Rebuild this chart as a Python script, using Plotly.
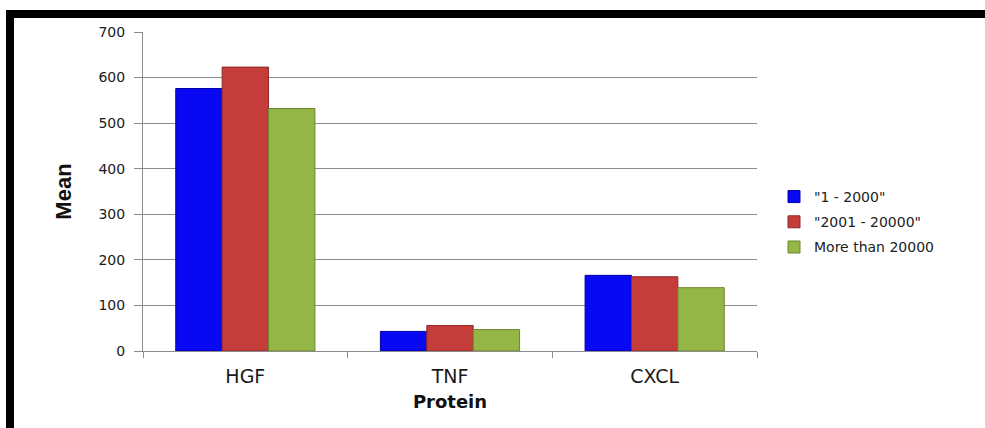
import plotly.graph_objects as go

# Mean protein level per donor-count group
proteins = ["HGF", "TNF", "CXCL"]
group_1_2000 = [576, 43, 166]
group_2001_20000 = [623, 56, 163]
group_over_20000 = [532, 47, 139]

series_names = ['"1 - 2000"', '"2001 - 20000"', "More than 20000"]
series_values = [group_1_2000, group_2001_20000, group_over_20000]
series_colors = ["#0808F2", "#C53D3B", "#94B646"]
edge_colors = ["#0000A8", "#8E2A29", "#6A8530"]

y_ticks = [0, 100, 200, 300, 400, 500, 600, 700]

W, H = 985, 428
ML, MR, MT, MB = 143, 228, 32, 77

fig = go.Figure()
for i, (name, vals, col, edge) in enumerate(zip(series_names, series_values, series_colors, edge_colors)):
    fig.add_trace(go.Bar(
        x=proteins, y=vals, name=name,
        marker=dict(color=col, line=dict(color=edge, width=1)),
        legendgroup=f"g{i}",
    ))

pw = W - ML - MR
ph = H - MT - MB


def px_x(p):
    return (p - ML) / pw


def px_y(p):
    return (H - MB - p) / ph


# black frame along the top and left edges of the page
frame = [
    dict(x0=px_x(6), x1=px_x(W + 2), y0=px_y(18), y1=px_y(10)),
    dict(x0=px_x(6), x1=px_x(14), y0=px_y(H + 2), y1=px_y(10)),
]
shapes = [dict(type="rect", xref="paper", yref="paper", fillcolor="black",
               line=dict(width=0), layer="above", **f) for f in frame]

fig.update_layout(
    width=W, height=H,
    margin=dict(l=ML, r=MR, t=MT, b=MB),
    paper_bgcolor="white", plot_bgcolor="white",
    barmode="group", bargap=0.32, bargroupgap=0.0,
    shapes=shapes,
    showlegend=True,
    legend=dict(
        x=px_x(774), xanchor="left", y=px_y(222), yanchor="middle",
        font=dict(family="DejaVu Sans", size=14, color="#222222"),
        tracegroupgap=4, bgcolor="rgba(0,0,0,0)",
    ),
    xaxis=dict(
        showline=True, linecolor="#8C8C8C", linewidth=1,
        ticks="outside", tickson="boundaries", ticklen=6, tickcolor="#8C8C8C",
        tickfont=dict(family="DejaVu Sans", size=19, color="#1A1A1A"),
        ticklabelstandoff=8,
        title=dict(text="<b>Protein</b>", standoff=9,
                   font=dict(family="DejaVu Sans", size=18, color="#111111")),
        showgrid=False,
    ),
    yaxis=dict(
        range=[0, 700], tickvals=y_ticks,
        showline=True, linecolor="#8C8C8C", linewidth=1,
        ticks="outside", ticklen=8, tickcolor="#8C8C8C",
        tickfont=dict(family="DejaVu Sans", size=14, color="#1A1A1A"),
        ticklabelstandoff=6,
        showgrid=True, gridcolor="#8C8C8C", gridwidth=1,
        zeroline=False,
        title=dict(text="<b>Mean</b>", standoff=20,
                   font=dict(family="Liberation Sans Narrow, Liberation Sans, Arial", size=22, color="#111111")),
    ),
)

fig.write_html("out.html")
